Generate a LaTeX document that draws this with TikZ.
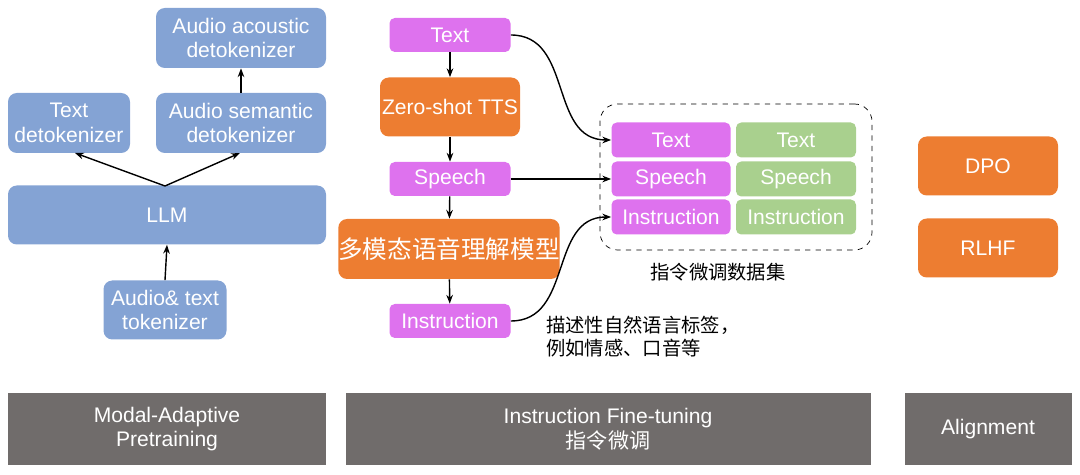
\documentclass[tikz,border=0pt]{standalone}
\usepackage{fontspec}
\setmainfont{Liberation Sans}
\newfontfamily\cjk{Noto Sans CJK SC}
\usetikzlibrary{arrows.meta,positioning}
\definecolor{blk}{RGB}{132,163,212}
\definecolor{mgn}{RGB}{222,114,238}
\definecolor{org}{RGB}{237,125,49}
\definecolor{grn}{RGB}{169,208,142}
\definecolor{bar}{RGB}{112,108,107}
\tikzset{
  box/.style={rounded corners=5pt, text=white, align=center, font=\fontsize{12}{14}\selectfont, inner sep=0pt},
  bl/.style={box, fill=blk},
  mg/.style={box, fill=mgn, rounded corners=3pt},
  og/.style={box, fill=org},
  gn/.style={box, fill=grn, rounded corners=3pt},
  gb/.style={fill=bar, text=white, align=center, font=\fontsize{12}{14}\selectfont, inner sep=0pt},
  arr/.style={-{Stealth[length=5pt]}, thick}
}
\newcommand{\bx}[6]{\node[#1, minimum width=#4*0.02cm, minimum height=#5*0.02cm] (#2) at (#3) {#6};}
\begin{document}
\begin{tikzpicture}[x=0.02cm, y=-0.02cm]
\useasboundingbox (0,0) rectangle (1080,475);
% Pretraining column
\bx{bl}{acou}{241,38}{170}{60}{Audio acoustic\\detokenizer}
\bx{bl}{tdet}{69,123}{122}{60}{Text\\detokenizer}
\bx{bl}{sdet}{241,123}{170}{60}{Audio semantic\\detokenizer}
\bx{bl}{llm}{167,215}{318}{59}{LLM}
\bx{bl}{tok}{165,310}{123}{59}{Audio\& text\\tokenizer}
\coordinate (fork) at (165,186);
\draw[arr] (fork) -- (75,153);
\draw[arr] (fork) -- (240,153);
\draw[arr] (sdet.north) -- (acou.south);
\draw[arr] (tok.north) -- (llm.south);
% Fine-tuning column
\bx{mg}{txt}{450,35}{121}{34}{Text}
\bx{og}{tts}{450,107}{140}{59}{Zero-shot TTS}
\bx{mg}{spc}{450,179}{121}{34}{Speech}
\bx{og}{und}{449,249}{207}{60}{\cjk\fontsize{14}{16}\selectfont 多模态语音理解模型}
\bx{mg}{ins}{450,321}{121}{34}{Instruction}
\foreach \a/\b in {txt/tts, tts/spc, spc/und, und/ins}
  \draw[arr] (\a) -- (\b);
\node[draw, dashed, rounded corners=10pt, minimum width=272*0.02cm, minimum height=146*0.02cm] (set) at (736,177) {};
\bx{mg}{dt}{671,140}{119}{35}{Text}
\bx{mg}{ds}{671,179}{119}{35}{Speech}
\bx{mg}{di}{671,217}{119}{35}{Instruction}
\bx{gn}{gt}{796,140}{120}{35}{Text}
\bx{gn}{gs}{796,179}{120}{35}{Speech}
\bx{gn}{gi}{796,217}{120}{35}{Instruction}
\node[font=\cjk\fontsize{11}{13}\selectfont] (setlbl) at (718,272) {指令微调数据集};
\node[font=\cjk\fontsize{11}{13}\selectfont, align=left, anchor=north west] (tag) at (540,310) {描述性自然语言标签，\\例如情感、口音等};
\draw[arr] (txt.east) to[out=0, in=180, looseness=1.1] (dt.west);
\draw[arr] (spc.east) -- (ds.west);
\draw[arr] (ins.east) to[out=0, in=180, looseness=1.1] (di.west);
% Alignment column
\bx{og}{dpo}{988,166}{140}{59}{DPO}
\bx{og}{rlhf}{988,248}{140}{59}{RLHF}
% Stage bars
\bx{gb}{s1}{167,429}{318}{72}{Modal-Adaptive\\Pretraining}
\bx{gb}{s2}{608,429}{525}{72}{Instruction Fine-tuning\\{\cjk 指令微调}}
\bx{gb}{s3}{988,429}{167}{72}{Alignment}
\end{tikzpicture}
\end{document}
